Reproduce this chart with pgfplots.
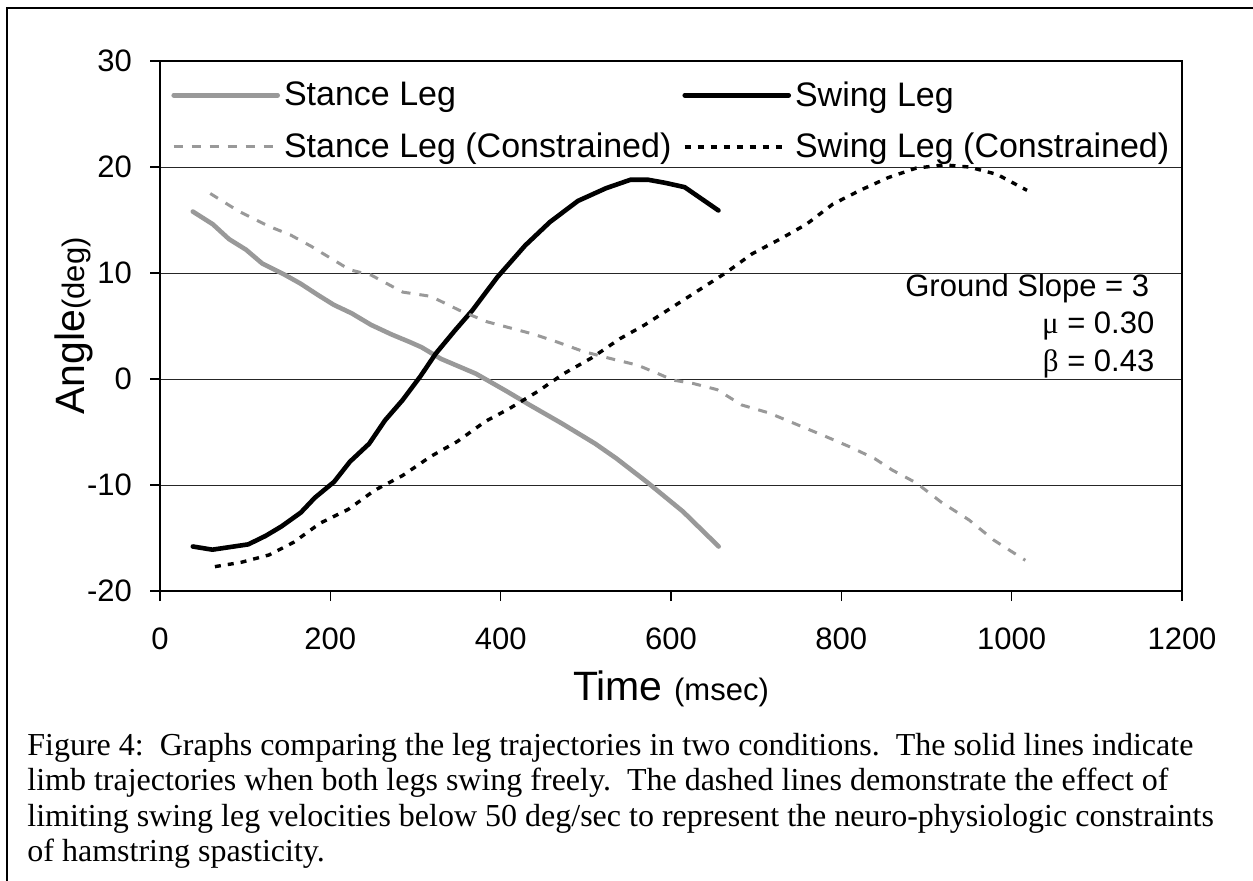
\documentclass[border=0pt]{standalone}
\usepackage{pgfplots}
\pgfplotsset{compat=1.18}
\usepackage{fontspec}
\setmainfont{Liberation Sans}
\newfontfamily\serif{Liberation Serif}
\definecolor{lgray}{RGB}{153,153,153}

\pgfplotstableread{
x y
38.5 15.8
62 14.6
81 13.2
101 12.2
120 10.9
145 9.9
165 9.0
186 7.9
204 7.0
225 6.2
248 5.1
272 4.2
293 3.5
307 3.0
330 1.9
371 0.5
408 -1.2
433 -2.4
472 -4.2
511 -6.1
536 -7.5
573 -9.8
614 -12.5
656 -15.8
}\stance

\pgfplotstableread{
x y
38.5 -15.8
61.5 -16.1
103.6 -15.6
124 -14.8
142.7 -13.9
165.3 -12.6
181.8 -11.2
204.4 -9.7
223 -7.8
245.6 -6.1
264.2 -3.9
284.7 -2.0
305.3 0.2
323.8 2.4
346.5 4.6
367 6.5
396 9.6
428.8 12.6
457.7 14.8
490.7 16.8
523.7 18.0
552.5 18.8
573 18.8
593.6 18.5
616 18.1
655.7 15.9
}\swing

\pgfplotstableread{
x y
59 17.5
93 15.8
128 14.4
153 13.6
178 12.5
190 11.9
223 10.3
248 9.8
285 8.2
318 7.8
351 6.5
384 5.4
412 4.8
440 4.2
466 3.5
497 2.6
528 1.95
561 1.3
588 0.4
602 -0.1
625 -0.4
654 -1.0
683 -2.45
715 -3.2
748 -4.3
781 -5.4
810 -6.4
839 -7.5
860 -8.6
888 -9.8
917 -11.6
950 -13.3
979 -15.2
1016 -17.1
}\stancec

\pgfplotstableread{
x y
64.5 -17.7
95 -17.3
128 -16.6
157 -15.4
188 -13.6
221 -12.3
252 -10.5
285 -9.1
318 -7.3
349 -5.9
382 -4.0
410 -2.8
443 -1.2
474 0.5
507 2.0
540 3.8
569 5.1
602 6.8
633 8.4
664 10.0
695 11.8
728 13.2
759 14.6
790 16.5
822 17.8
855 19.0
888 19.9
921 20.2
950 20.0
983 19.3
1018 17.8
}\swingc

\begin{document}
\begin{tikzpicture}
\useasboundingbox (0,0) rectangle (626.5pt,-440pt);
\draw[line width=1pt] (3.5pt,-441pt) -- (3.5pt,-4pt) -- (627pt,-4pt);
\begin{axis}[
  at={(80pt,-295.5pt)}, anchor=south west,
  scale only axis, width=511pt, height=265pt,
  xmin=0, xmax=1200, ymin=-20, ymax=30,
  xtick={0,200,...,1200}, ytick={-20,-10,...,30},
  xtick pos=bottom, ytick pos=left,
  tick align=outside, major tick length=5pt,
  tick style={black, line width=0.6pt},
  axis line style={line width=1pt},
  ymajorgrids, grid style={black!85, line width=0.5pt},
  /pgf/number format/assume math mode=true,
  /pgf/number format/1000 sep={},
  tick label style={font=\fontsize{15.5}{18}\selectfont},
  xticklabel style={yshift=-10pt},
  yticklabel style={xshift=-5.5pt},
  xlabel={\fontsize{20.5}{24}\selectfont Time \fontsize{15.5}{18}\selectfont(msec)},
  xlabel style={at={(axis description cs:0.5,-0.2057)}, anchor=base, inner sep=0pt},
  ylabel={\fontsize{20.5}{24}\selectfont Angle\fontsize{15.5}{18}\selectfont(deg)},
  ylabel style={at={(axis description cs:-0.07339,0.5)}, anchor=base, inner sep=0pt},
  legend columns=2,
  legend cell align=left,
  legend style={draw=none, fill=none, at={(rel axis cs:0,1)}, anchor=north west,
    xshift=5.5pt, yshift=-8pt, inner sep=0pt,
    font=\fontsize{17}{20}\selectfont, row sep=8pt,
    /tikz/every even column/.append style={column sep=3.5pt}},
  legend image code/.code={\draw[#1] (0pt,0pt) -- (52pt,0pt);},
]
\addplot[lgray, line width=2.3pt, line join=round, line cap=round] table[x=x,y=y] {\stance};
\addlegendentry{Stance Leg}
\addplot[black, line width=2.3pt, line join=round, line cap=round] table[x=x,y=y] {\swing};
\addlegendentry{Swing Leg}
\addplot[lgray, line width=1.5pt, dash pattern=on 4.5pt off 4.5pt] table[x=x,y=y] {\stancec};
\addlegendentry{Stance Leg (Constrained)}
\addplot[black, line width=1.7pt, dash pattern=on 3pt off 3.5pt] table[x=x,y=y] {\swingc};
\addlegendentry{Swing Leg (Constrained)}
\node[anchor=base east, inner sep=0pt, font=\fontsize{15.5}{18}\selectfont] at (axis cs:1162,7.74) {Ground Slope = 3};
\node[anchor=base east, inner sep=0pt, font=\fontsize{15.5}{18}\selectfont] at (axis cs:1168,4.25) {{\serif μ} = 0.30};
\node[anchor=base east, inner sep=0pt, font=\fontsize{15.5}{18}\selectfont] at (axis cs:1168,0.75) {{\serif β} = 0.43};
\end{axis}
\begin{scope}[every node/.style={anchor=base west, inner sep=0pt, font=\serif\fontsize{16}{19}\selectfont}]
\node at (13.5pt,-377.5pt) {Figure 4:\ \ Graphs comparing the leg trajectories in two conditions.\ \ The solid lines indicate};
\node at (13.5pt,-395.25pt) {limb trajectories when both legs swing freely.\ \ The dashed lines demonstrate the effect of};
\node at (13.5pt,-413pt) {limiting swing leg velocities below 50 deg/sec to represent the neuro-physiologic constraints};
\node at (13.5pt,-430.75pt) {of hamstring spasticity.};
\end{scope}
\end{tikzpicture}
\end{document}
